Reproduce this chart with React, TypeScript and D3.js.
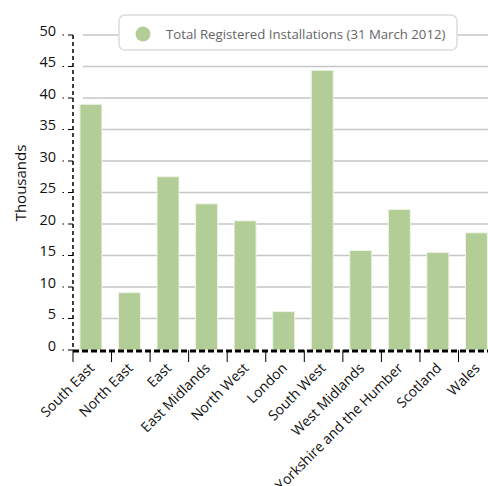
import { useEffect, useRef } from "react";
import * as d3 from "d3";

const regions = [
  "South East",
  "North East",
  "East",
  "East Midlands",
  "North West",
  "London",
  "South West",
  "West Midlands",
  "Yorkshire and the Humber",
  "Scotland",
  "Wales",
];
// thousands of installations
const installations = [39.0, 9.1, 27.5, 23.2, 20.5, 6.1, 44.4, 15.8, 22.3, 15.5, 18.6];
const yTicks = [0, 5, 10, 15, 20, 25, 30, 35, 40, 45, 50];
const legendLabel = "Total Registered Installations (31 March 2012)";

const W = 488;
const H = 486;
const FONT = "'Open Sans', sans-serif";

export default function App() {
  const svgRef = useRef<SVGSVGElement>(null);

  useEffect(() => {
    const svg = d3.select(svgRef.current);
    svg.selectAll("*").remove();

    const left = 73;
    const step = 38.55;
    const top = 35;
    const bottom = 350;

    const x = d3
      .scaleBand<string>()
      .domain(regions)
      .range([left, left + step * regions.length]);

    const y = d3.scaleLinear().domain([0, 50]).range([bottom, top]);

    // gridlines
    svg
      .append("g")
      .selectAll("line")
      .data(yTicks.filter((t) => t > 0))
      .join("line")
      .attr("x1", left + 10)
      .attr("x2", W)
      .attr("y1", (d) => y(d))
      .attr("y2", (d) => y(d))
      .attr("stroke", "#c6c6c6")
      .attr("stroke-width", 1.5);

    // bars
    const bw = x.bandwidth();
    svg
      .append("g")
      .selectAll("rect")
      .data(installations)
      .join("rect")
      .attr("x", (_, i) => x(regions[i])! + bw * 0.18)
      .attr("width", bw * 0.57)
      .attr("y", (d) => y(d))
      .attr("height", (d) => y(0) - y(d))
      .attr("fill", "#b3cd97")
      .attr("stroke", "#eef4e6")
      .attr("stroke-width", 1);

    // y axis
    const yAxis = svg.append("g");
    yAxis
      .append("line")
      .attr("x1", left)
      .attr("x2", left)
      .attr("y1", top)
      .attr("y2", bottom)
      .attr("stroke", "#000")
      .attr("stroke-width", 1.5)
      .attr("stroke-dasharray", "4,3");
    const yt = yAxis
      .selectAll("g")
      .data(yTicks)
      .join("g")
      .attr("transform", (d) => `translate(0,${y(d)})`);
    yt.append("line")
      .attr("x1", left)
      .attr("x2", left - 11)
      .attr("stroke", "#000")
      .attr("stroke-width", 1.2)
      .attr("stroke-dasharray", "5,4,1.5");
    yt.append("text")
      .attr("x", left - 17)
      .attr("y", 0)
      .attr("dy", "0.05em")
      .attr("text-anchor", "end")
      .attr("font-family", FONT)
      .attr("font-size", 14.5)
      .attr("fill", "#111")
      .text((d) => d);

    // y title
    svg
      .append("text")
      .attr("transform", `translate(26,183) rotate(-90)`)
      .attr("text-anchor", "middle")
      .attr("font-family", FONT)
      .attr("font-size", 15)
      .attr("fill", "#111")
      .text("Thousands");

    // x axis
    const xAxis = svg.append("g");
    xAxis
      .selectAll("line.tick")
      .data(regions)
      .join("line")
      .attr("class", "tick")
      .attr("x1", (d) => x(d)!)
      .attr("x2", (d) => x(d)!)
      .attr("y1", bottom)
      .attr("y2", bottom + 12)
      .attr("stroke", "#000")
      .attr("stroke-width", 1);
    xAxis
      .append("line")
      .attr("x1", left)
      .attr("x2", W)
      .attr("y1", bottom + 1)
      .attr("y2", bottom + 1)
      .attr("stroke", "#000")
      .attr("stroke-width", 3)
      .attr("stroke-dasharray", "6,3");
    xAxis
      .selectAll("text")
      .data(regions)
      .join("text")
      .attr(
        "transform",
        (d) => `translate(${x(d)! + bw / 2 + 3},${bottom + 19}) rotate(-45)`
      )
      .attr("text-anchor", "end")
      .attr("font-family", FONT)
      .attr("font-size", 14)
      .attr("fill", "#111")
      .text((d) => d);

    // legend
    const lg = svg.append("g");
    lg.append("rect")
      .attr("x", 119)
      .attr("y", 15)
      .attr("width", 338)
      .attr("height", 35)
      .attr("rx", 6)
      .attr("fill", "#fff")
      .attr("stroke", "#dcdcdc")
      .attr("stroke-width", 1.5);
    lg.append("circle")
      .attr("cx", 143)
      .attr("cy", 34)
      .attr("r", 7.5)
      .attr("fill", "#b3cd97");
    lg.append("text")
      .attr("x", 166)
      .attr("y", 39)
      .attr("font-family", FONT)
      .attr("font-size", 13.2)
      .attr("fill", "#666")
      .text(legendLabel);
  }, []);

  return (
    <svg
      ref={svgRef}
      width={W}
      height={H}
      style={{ position: "absolute", left: 0, top: 0, background: "#fff" }}
    />
  );
}
